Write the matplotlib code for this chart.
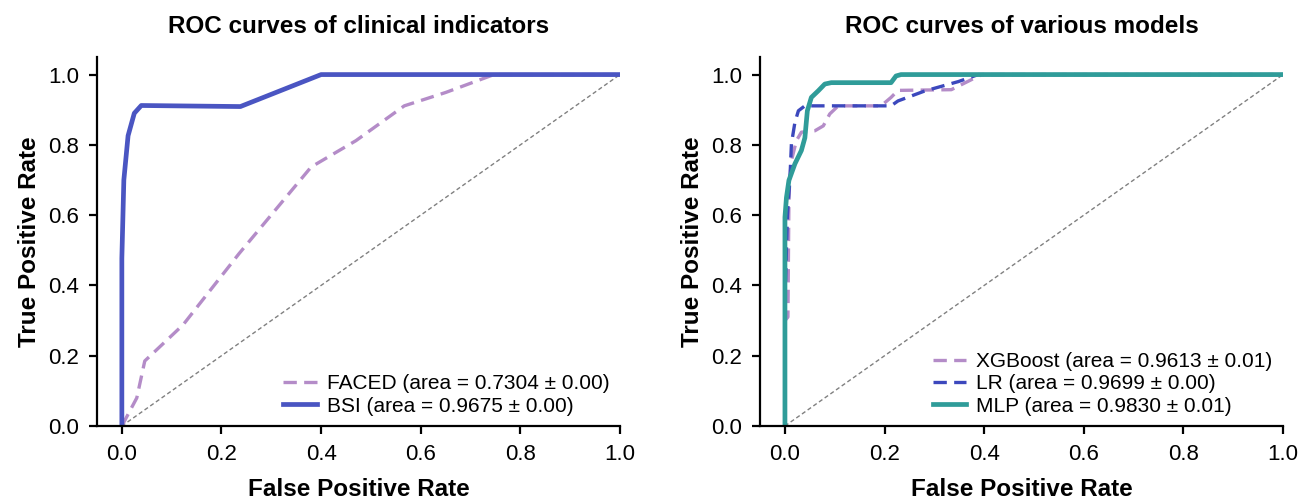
import matplotlib
matplotlib.use("Agg")
import matplotlib.pyplot as plt

plt.rcParams['font.family'] = ['Liberation Sans', 'DejaVu Sans']

# ---- data: left panel (clinical indicators) ----
faced_fpr = [0.0, 0.03, 0.046, 0.123, 0.235, 0.38, 0.47, 0.567, 0.65, 0.747, 1.0]
faced_tpr = [0.0, 0.08, 0.185, 0.288, 0.49, 0.737, 0.812, 0.911, 0.949, 1.0, 1.0]
bsi_fpr = [0.0, 0.0, 0.004, 0.0125, 0.025, 0.039, 0.238, 0.40, 1.0]
bsi_tpr = [0.0, 0.477, 0.70, 0.826, 0.89, 0.912, 0.909, 1.0, 1.0]
left_labels = ["FACED (area = 0.7304 \u00b1 0.00)", "BSI (area = 0.9675 \u00b1 0.00)"]

# ---- data: right panel (models) ----
xgb_fpr = [0.0, 0.0, 0.006, 0.008, 0.01, 0.013, 0.023, 0.033, 0.06, 0.077, 0.09, 0.107,
           0.193, 0.213, 0.227, 0.334, 0.375, 0.395, 1.0]
xgb_tpr = [0.0, 0.30, 0.31, 0.65, 0.707, 0.755, 0.812, 0.836, 0.84, 0.854, 0.888, 0.911,
           0.911, 0.935, 0.955, 0.957, 0.986, 1.0, 1.0]
lr_fpr = [0.0, 0.0, 0.005, 0.01, 0.013, 0.02, 0.027, 0.04, 0.213, 0.227, 0.246, 0.28,
          0.348, 0.388, 1.0]
lr_tpr = [0.0, 0.35, 0.60, 0.704, 0.803, 0.864, 0.897, 0.911, 0.911, 0.925, 0.935, 0.953,
          0.98, 1.0, 1.0]
mlp_fpr = [0.0, 0.0, 0.003, 0.008, 0.02, 0.033, 0.04, 0.045, 0.053, 0.067, 0.08, 0.093,
           0.213, 0.223, 0.233, 1.0]
mlp_tpr = [0.0, 0.594, 0.65, 0.699, 0.746, 0.784, 0.82, 0.897, 0.935, 0.954, 0.973, 0.977,
           0.977, 0.996, 1.0, 1.0]
right_labels = ["XGBoost (area = 0.9613 \u00b1 0.01)", "LR (area = 0.9699 \u00b1 0.00)",
                "MLP (area = 0.9830 \u00b1 0.01)"]

titles = ["ROC curves of clinical indicators", "ROC curves of various models"]
ticks = [0.0, 0.2, 0.4, 0.6, 0.8, 1.0]

LILAC = "#b48cc8"
BLUE = "#4a55c2"
BLUE2 = "#3c48bd"
TEAL = "#2f9c99"

fig = plt.figure(figsize=(13.03, 5.0), dpi=100)
ax1 = fig.add_axes([0.0744, 0.148, 0.4014, 0.738])
ax2 = fig.add_axes([0.5833, 0.148, 0.4014, 0.738])

ax1.plot([0, 1], [0, 1], linestyle=(0, (3, 2)), color="gray", lw=1.0)
ax1.plot(faced_fpr, faced_tpr, linestyle=(0, (4, 2.2)), color=LILAC, lw=2.4, label=left_labels[0])
ax1.plot(bsi_fpr, bsi_tpr, color=BLUE, lw=3.4, label=left_labels[1], solid_joinstyle='round')

ax2.plot([0, 1], [0, 1], linestyle=(0, (3, 2)), color="gray", lw=1.0)
ax2.plot(xgb_fpr, xgb_tpr, linestyle=(0, (4, 2.2)), color=LILAC, lw=2.4, label=right_labels[0])
ax2.plot(lr_fpr, lr_tpr, linestyle=(0, (4, 2.2)), color=BLUE2, lw=2.4, label=right_labels[1])
ax2.plot(mlp_fpr, mlp_tpr, color=TEAL, lw=3.4, label=right_labels[2], solid_joinstyle='round')

for ax, t in zip([ax1, ax2], titles):
    ax.set_xlim(-0.05, 1.0)
    ax.set_ylim(0.0, 1.05)
    ax.set_xticks(ticks)
    ax.set_yticks(ticks)
    ax.set_xticklabels([f"{v:.1f}" for v in ticks])
    ax.set_yticklabels([f"{v:.1f}" for v in ticks])
    for s in ["top", "right"]:
        ax.spines[s].set_visible(False)
    for s in ["left", "bottom"]:
        ax.spines[s].set_linewidth(1.6)
    ax.tick_params(axis="both", labelsize=16, width=1.6, length=6, pad=7)
    ax.set_xlabel("False Positive Rate", fontsize=17.5, fontweight="bold", labelpad=9)
    ax.set_ylabel("True Positive Rate", fontsize=17.5, fontweight="bold", labelpad=5)
    ax.set_title(t, fontsize=17.5, fontweight="bold", pad=17)
    ax.legend(loc="lower right", frameon=False, fontsize=15, handlelength=1.6,
              handletextpad=0.5, labelspacing=0.15, borderaxespad=0.1)

fig.savefig("out.png", dpi=100)
